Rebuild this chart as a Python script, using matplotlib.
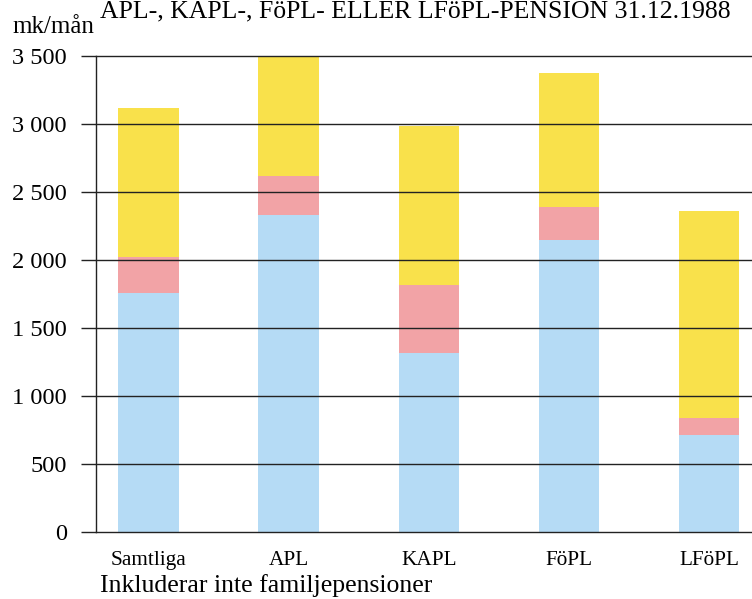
import matplotlib
matplotlib.use("Agg")
import matplotlib.pyplot as plt
import numpy as np

categories = ["Samtliga", "APL", "KAPL", "FöPL", "LFöPL"]
blue_vals = [1757, 2331, 1316, 2147, 713]
red_tops = [2022, 2618, 1816, 2390, 838]
yellow_tops = [3118, 3500, 2985, 3375, 2360]
red_vals = [r - b for r, b in zip(red_tops, blue_vals)]
yellow_vals = [y - r for y, r in zip(yellow_tops, red_tops)]
yticks = [0, 500, 1000, 1500, 2000, 2500, 3000, 3500]
ytick_labels = ["0", "500", "1 000", "1 500", "2 000", "2 500", "3 000", "3 500"]

plt.rcParams['font.family'] = ['Liberation Serif', 'DejaVu Serif']

W, H = 752, 599
fig = plt.figure(figsize=(W / 100, H / 100), dpi=100)
ax = fig.add_axes([96 / W, (H - 532) / H, 1 - 96 / W, (532 - 56) / H])

x = np.arange(len(categories))
bw = 0.43
ax.bar(x, blue_vals, bw, color="#b5dbf5", zorder=1)
ax.bar(x, red_vals, bw, bottom=blue_vals, color="#f2a3a6", zorder=1)
ax.bar(x, yellow_vals, bw, bottom=red_tops, color="#f9e14b", zorder=1)

ax.set_xlim(-0.375, 4.308)
ax.set_ylim(0, 3500)
for yv in yticks:
    ax.axhline(yv, color="#222222", lw=1.0, zorder=2, clip_on=False)
ax.set_yticks(yticks)
ax.set_yticklabels(ytick_labels, fontsize=17.6)
ax.tick_params(axis='y', length=11, width=1.0, color="#222222", pad=10)
ax.set_xticks(x)
ax.set_xticklabels(categories, fontsize=15.3)
ax.tick_params(axis='x', length=0, pad=14)
for s in ["top", "right", "bottom"]:
    ax.spines[s].set_visible(False)
ax.spines["left"].set_color("#222222")
ax.spines["left"].set_linewidth(1.0)

fig.text(100 / W, 1 - 17 / H, "APL-, KAPL-, FöPL- ELLER LFöPL-PENSION 31.12.1988",
         fontsize=18.5, ha="left", va="baseline")
fig.text(12 / W, 1 - 33 / H, "mk/mån", fontsize=18, ha="left", va="baseline")
fig.text(100 / W, 1 - 592 / H, "Inkluderar inte familjepensioner", fontsize=18.5,
         ha="left", va="baseline")

fig.savefig("out.png", dpi=100)
